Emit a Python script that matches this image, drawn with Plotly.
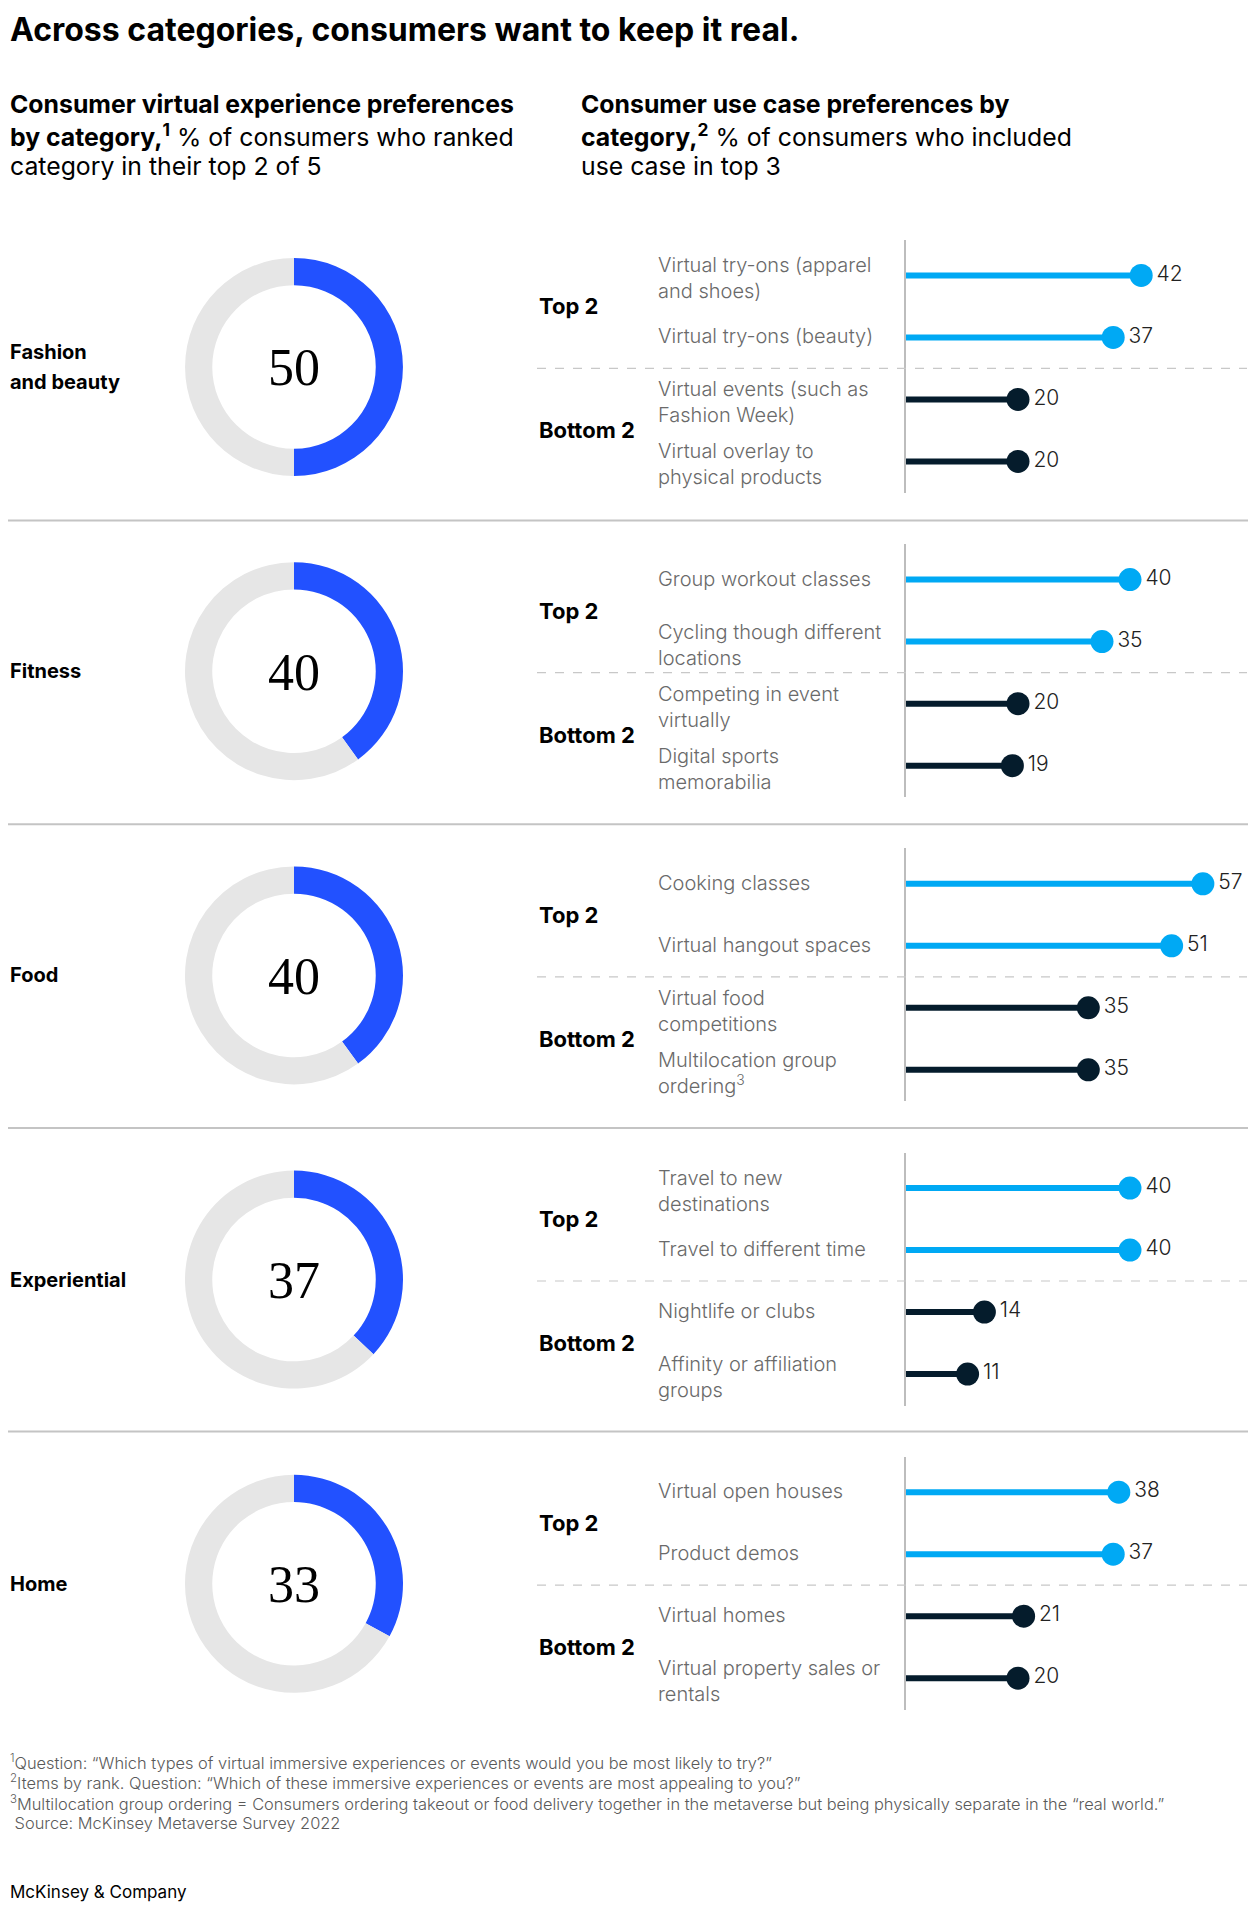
import plotly.graph_objects as go

# the page puts the plot 8px in from the top-left corner
PAD = 8
W, H = 1256 - PAD, 1910 - PAD

# ---- data ----
categories = ["Fashion<br>and beauty", "Fitness", "Food", "Experiential", "Home"]
category_share = [50, 40, 40, 37, 33]

group_labels = ["Top 2", "Bottom 2"]

use_case_labels = [
    ["Virtual try-ons (apparel<br>and shoes)", "Virtual try-ons (beauty)",
     "Virtual events (such as<br>Fashion Week)", "Virtual overlay to<br>physical products"],
    ["Group workout classes", "Cycling though different<br>locations",
     "Competing in event<br>virtually", "Digital sports<br>memorabilia"],
    ["Cooking classes", "Virtual hangout spaces",
     "Virtual food<br>competitions", "Multilocation group<br>ordering<sup>3</sup>"],
    ["Travel to new<br>destinations", "Travel to different time",
     "Nightlife or clubs", "Affinity or affiliation<br>groups"],
    ["Virtual open houses", "Product demos",
     "Virtual homes", "Virtual property sales or<br>rentals"],
]
use_case_values = [
    [42, 37, 20, 20],
    [40, 35, 20, 19],
    [57, 51, 35, 35],
    [40, 40, 14, 11],
    [38, 37, 21, 20],
]
x_max = [62.5, 62.5, 67.2, 62.5, 62.5]

footnotes = [
    "<sup>1</sup>Question: \u201cWhich types of virtual immersive experiences or events would you be most likely to try?\u201d",
    "<sup>2</sup>Items by rank. Question: \u201cWhich of these immersive experiences or events are most appealing to you?\u201d",
    "<sup>3</sup>Multilocation group ordering = Consumers ordering takeout or food delivery together in the metaverse but being physically separate in the \u201creal world.\u201d",
    " Source: McKinsey Metaverse Survey 2022",
]

BLUE = "#2251FF"
LIGHT_BLUE = "#00A9F4"
NAVY = "#051C2C"
RING_GRAY = "#E6E6E6"
FONT = "Inter"


def xp(px):
    return max(px - PAD, 0) / W


def yp(py):
    return 1 - (py - PAD) / H


def note(x, y, text, size, color="#000000", weight=400, family=FONT, **kw):
    d = dict(x=xp(x), y=yp(y), xref="paper", yref="paper", xanchor="left",
             yanchor="middle", text=text, showarrow=False, align="left",
             font=dict(family=family, size=size, color=color, weight=weight))
    d.update(kw)
    return d


fig = go.Figure()
annotations = []
shapes = []
layout_axes = {}

STEP = 304.2
for k in range(5):
    off = k * STEP

    # donut
    cy = 367 + off
    r = 109
    fig.add_trace(go.Pie(
        values=[category_share[k], 100 - category_share[k]],
        hole=0.75, sort=False, direction="clockwise", rotation=0,
        marker=dict(colors=[BLUE, RING_GRAY], line=dict(width=0)),
        textinfo="none", hoverinfo="skip", showlegend=False,
        domain=dict(x=[xp(294 - r), xp(294 + r)], y=[yp(cy + r), yp(cy - r)]),
    ))
    annotations.append(note(294, cy + 1, str(category_share[k]), 52,
                            family="Liberation Serif", xanchor="center"))
    cat_lines = categories[k].split("<br>")
    for n, line in enumerate(cat_lines):
        ly = cy + (n - (len(cat_lines) - 1) / 2) * 30.5
        annotations.append(note(3, ly, line, 20, weight=700))

    # lollipops
    sfx = "" if k == 0 else str(k + 1)
    xa, ya = "x" + sfx, "y" + sfx
    top, bot = 240 + off, 493 + off
    layout_axes["xaxis" + sfx] = dict(
        domain=[xp(906), 1.0], range=[0, x_max[k]], anchor=ya,
        visible=False, fixedrange=True,
    )
    layout_axes["yaxis" + sfx] = dict(
        domain=[yp(bot), yp(top)], range=[3.509, -0.571], anchor=xa,
        showline=True, linecolor="#BDBDBD", linewidth=1.5,
        showticklabels=False, ticks="", showgrid=False, zeroline=False,
        fixedrange=True,
    )
    vals = use_case_values[k]
    colors = [LIGHT_BLUE, LIGHT_BLUE, NAVY, NAVY]
    for i, v in enumerate(vals):
        fig.add_trace(go.Scatter(
            x=[0, v], y=[i, i], mode="lines", xaxis=xa, yaxis=ya,
            line=dict(color=colors[i], width=6), hoverinfo="skip",
            showlegend=False, cliponaxis=False,
        ))
    fig.add_trace(go.Scatter(
        x=vals, y=[0, 1, 2, 3], mode="markers+text", xaxis=xa, yaxis=ya,
        marker=dict(size=23, color=colors), text=[str(v) for v in vals],
        textposition="middle right",
        textfont=dict(family=FONT, size=21, color="#222222", weight=300),
        showlegend=False, cliponaxis=False,
    ))
    for i, lab in enumerate(use_case_labels[k]):
        annotations.append(dict(
            x=xp(656), y=i, xref="paper", yref=ya, xanchor="left",
            yanchor="middle", yshift=-3 if "<br>" in lab else 1,
            text=lab, showarrow=False, align="left",
            font=dict(family=FONT, size=20, color="#6A6A6A", weight=300),
        ))
    for j, g in enumerate(group_labels):
        annotations.append(dict(
            x=xp(537), y=0.5 + 2 * j, xref="paper", yref=ya, xanchor="left",
            yanchor="middle", text=g, showarrow=False,
            font=dict(family=FONT, size=22, color="#000000", weight=700),
        ))
    shapes.append(dict(
        type="line", xref="paper", yref=ya, x0=xp(537), x1=xp(1247),
        y0=1.5, y1=1.5, line=dict(color="#C8C8C8", width=1.2, dash="dash"),
    ))
    if k < 4:
        sy = 520.5 + k * 303.7
        shapes.append(dict(
            type="line", xref="paper", yref="paper", x0=-0.01, x1=1.01,
            y0=yp(sy), y1=yp(sy), line=dict(color="#C4C4C4", width=2),
        ))

# title & subtitles
annotations.append(note(3, PAD, "Across categories, consumers want to keep it real.",
                        32, weight=700, yanchor="top"))
left_sub = ["<b>Consumer virtual experience preferences</b>",
            "<b>by category,<sup>1</sup></b> % of consumers who ranked",
            "category in their top 2 of 5"]
right_sub = ["<b>Consumer use case preferences by</b>",
             "<b>category,<sup>2</sup></b> % of consumers who included",
             "use case in top 3"]
for lines, x0 in ((left_sub, 3), (right_sub, 579)):
    for n, line in enumerate(lines):
        annotations.append(note(x0, 104 + n * 31, line, 24.8, weight=400))

for n, line in enumerate(footnotes):
    annotations.append(note(1, 1762 + n * 20.4, line, 16.4, color="#5A5A5A", weight=300))
annotations.append(note(3, 1892, "McKinsey & Company", 17))

fig.update_layout(
    width=W, height=H, margin=dict(l=0, r=0, t=0, b=0),
    paper_bgcolor="white", plot_bgcolor="white",
    annotations=annotations, shapes=shapes, showlegend=False,
    **layout_axes,
)
fig.write_html("out.html")
